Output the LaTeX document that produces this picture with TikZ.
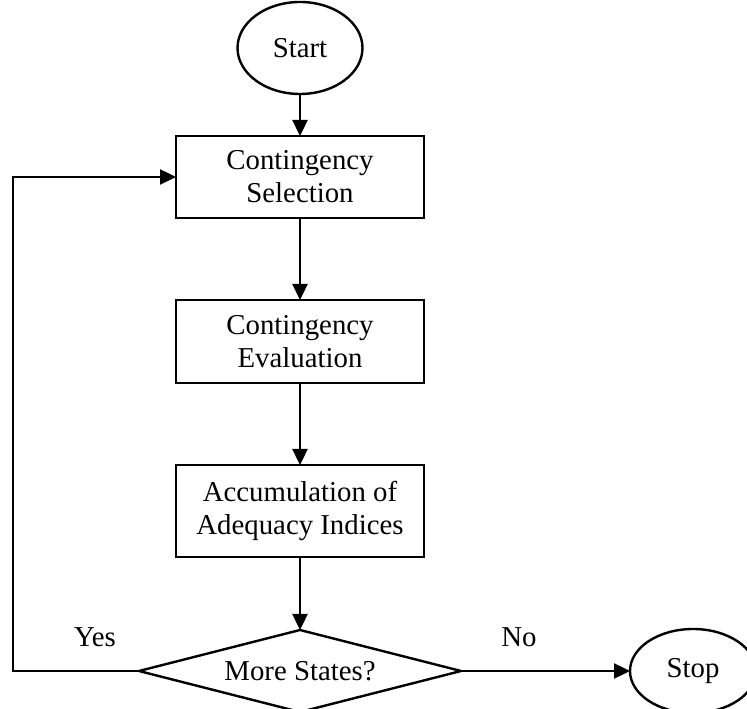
\documentclass[tikz,border=0pt]{standalone}
\usepackage{fontspec}
\setmainfont{Liberation Serif}
\usetikzlibrary{shapes.geometric, positioning, arrows.meta}

\tikzset{
    every node/.style={font=\fontsize{28.8}{33}\selectfont},
    term/.style={draw, ellipse, line width=2.4pt, inner sep=0pt, outer sep=0pt},
    proc/.style={draw, rectangle, line width=2.4pt, minimum width=248pt, align=center, inner sep=0pt, outer sep=0pt},
    decision/.style={draw, diamond, line width=2.4pt, aspect=3.9, minimum width=322pt, minimum height=82pt, inner sep=0pt, outer sep=0pt},
    flow/.style={line width=2.4pt, -{Triangle[length=16pt,width=15pt]}}
}

\begin{document}
\begin{tikzpicture}[x=1pt, y=1pt]
    \useasboundingbox (0,0) rectangle (747,709);
    \node [term, minimum width=125pt, minimum height=92pt] (start) at (300,661) {Start};
    \node [proc, minimum height=82pt, below=42pt of start] (select) {Contingency\\Selection};
    \node [proc, minimum height=83pt, below=82pt of select] (eval) {Contingency\\Evaluation};
    \node [proc, minimum height=92pt, below=82pt of eval] (accum) {Accumulation of\\Adequacy Indices};
    \node [decision, below=73pt of accum] (more) {More States?};
    \node [term, minimum width=126pt, minimum height=84pt, right=169pt of more] (stop) {Stop};
    \node (yes) at (95,72) {Yes};
    \node (no) at (519,72) {No};
    \coordinate (loop) at (13,0);
    \draw[flow] (start) -- (select);
    \draw[flow] (select) -- (eval);
    \draw[flow] (eval) -- (accum);
    \draw[flow] (accum) -- (more);
    \draw[flow] (more) -- (stop);
    \draw[flow] (more.west) -- (more.west -| loop) |- (select.west);
\end{tikzpicture}
\end{document}
